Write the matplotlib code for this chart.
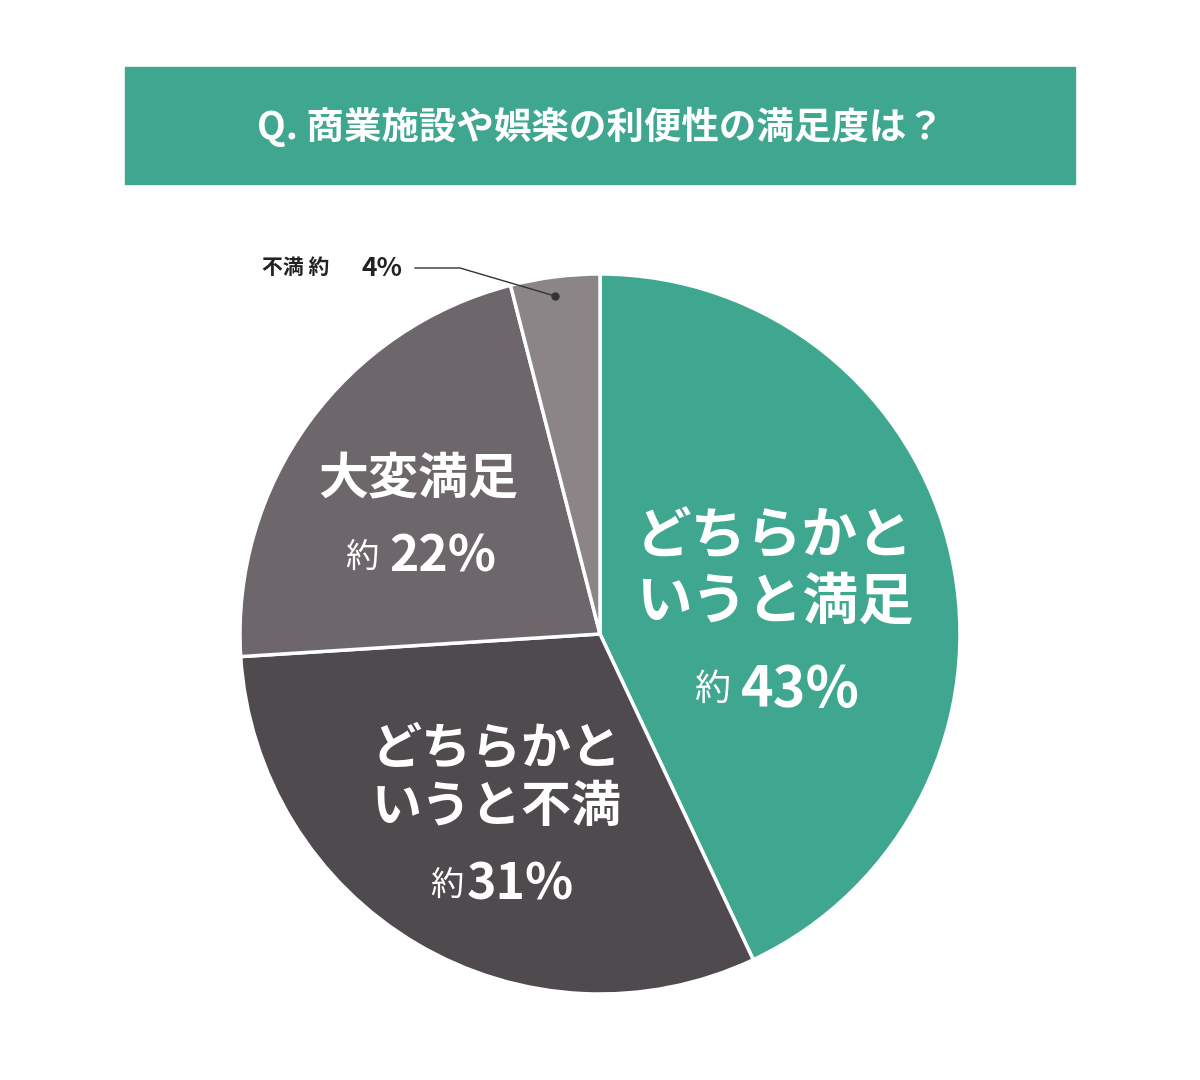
import matplotlib.pyplot as plt
from matplotlib.patches import Rectangle

plt.rcParams['font.family'] = 'Noto Sans CJK JP'

# data
categories = ['どちらかと\nいうと満足', 'どちらかと\nいうと不満', '大変満足', '不満']
values = [43, 31, 22, 4]
colors = ['#3FA78F', '#4E4A4E', '#6D676B', '#8B8587']
title = 'Q. 商業施設や娯楽の利便性の満足度は？'

H = 1080
fig = plt.figure(figsize=(12, 10.8), dpi=100)
ax = fig.add_axes([0, 0, 1, 1])

# pie
ax.pie(values, colors=colors, startangle=90, counterclock=False,
       center=(600, H - 634), radius=360,
       wedgeprops=dict(edgecolor='white', linewidth=2.5))

# pie() resets the limits, so set them afterwards
ax.set_xlim(0, 1200)
ax.set_ylim(0, H)
ax.set_aspect('equal')
ax.axis('off')

# title box
ax.add_patch(Rectangle((125, H - 184), 950, 117, color='#3FA78F'))
ax.text(600, H - 127, title, color='white', fontsize=27, fontweight='bold',
        ha='center', va='center')

def label(x, y, name, size):
    ax.text(x, H - y, name, color='white', fontsize=size, fontweight='bold',
            ha='center', va='center', linespacing=1.2)

# どちらかというと満足
label(775, 570, categories[0], 40)
ax.text(712, H - 690, '約', color='white', fontsize=26, ha='center', va='center')
ax.text(800, H - 690, f'{values[0]}%', color='white', fontsize=40, fontweight='bold',
        ha='center', va='center')
# どちらかというと不満
label(497, 778, categories[1], 36)
ax.text(447, H - 885, '約', color='white', fontsize=24, ha='center', va='center')
ax.text(520, H - 885, f'{values[1]}%', color='white', fontsize=36, fontweight='bold',
        ha='center', va='center')
# 大変満足
label(418, 480, categories[2], 36)
ax.text(362, H - 557, '約', color='white', fontsize=24, ha='center', va='center')
ax.text(443, H - 557, f'{values[2]}%', color='white', fontsize=36, fontweight='bold',
        ha='center', va='center')
# 不満 (outside label)
ax.text(262, H - 268, '不満 約', color='#222222', fontsize=15, fontweight='bold',
        ha='left', va='center')
ax.text(362, H - 268, f'{values[3]}%', color='#222222', fontsize=19, fontweight='bold',
        ha='left', va='center')
ax.plot([415, 460, 555], [H - 268, H - 268, H - 296], color='#333333', lw=1)
ax.plot([555], [H - 296], 'o', color='#333333', ms=5)

fig.savefig('out.png', dpi=100, facecolor='white')
